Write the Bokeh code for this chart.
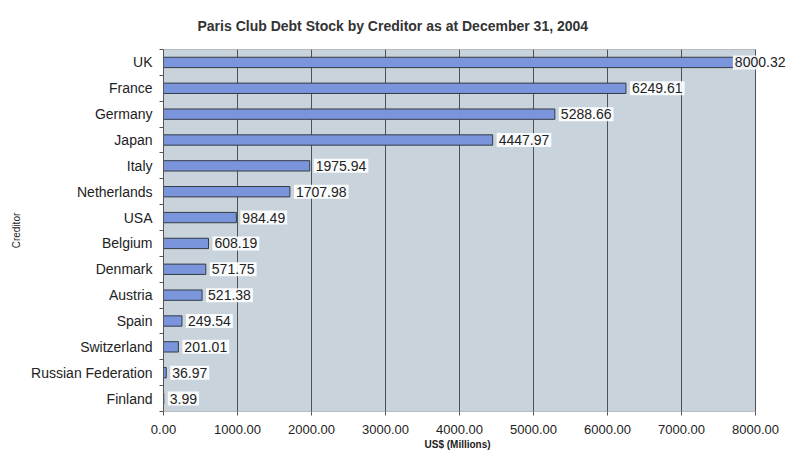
import numpy as np
from bokeh.plotting import figure
from bokeh.models import (ColumnDataSource, Range1d, FixedTicker, Label,
                          NumeralTickFormatter, Title)
from bokeh.embed import file_html
from bokeh.resources import INLINE

# ---- data (top to bottom as in the chart) ----
creditors = ["UK", "France", "Germany", "Japan", "Italy", "Netherlands", "USA",
             "Belgium", "Denmark", "Austria", "Spain", "Switzerland",
             "Russian Federation", "Finland"]
debt = [8000.32, 6249.61, 5288.66, 4447.97, 1975.94, 1707.98, 984.49,
        608.19, 571.75, 521.38, 249.54, 201.01, 36.97, 3.99]
x_ticks = [0, 1000, 2000, 3000, 4000, 5000, 6000, 7000, 8000]

title_text = "Paris Club Debt Stock by Creditor as at December 31, 2004"
x_title = "US$ (Millions)"
y_title = "Creditor"

FONT = "Liberation Sans"
n = len(creditors)
xmax = x_ticks[-1]
pos = list(range(n))
vals = np.array(debt)
label_x = np.minimum(vals, xmax - 360)
label_txt = [f"{d:.2f}" for d in debt]

# frame spans to the right edge of the page so the last label is not clipped;
# the plotting area proper (0..xmax) is drawn as a panel.
W, H = 789, 451
FL, FR_AREA = 163, 755
x_end = xmax * (W - FL) / (FR_AREA - FL)

src = ColumnDataSource(dict(y=pos, v=debt))

p = figure(width=W, height=H, output_backend="svg", toolbar_location=None,
           x_range=Range1d(0, x_end), y_range=Range1d(n - 0.5, -0.5),
           min_border_left=FL, min_border_right=0, min_border_top=49,
           min_border_bottom=40)

p.background_fill_color = "white"
p.border_fill_color = "white"
p.outline_line_color = None

# plot area panel
p.quad(left=0, right=xmax, bottom=n - 0.5, top=-0.5,
       fill_color="#c9d3dc", line_color="#7d848c", line_width=1, level="underlay")

p.title.text = title_text
p.title.align = "left"
p.title.offset = 34
p.title.text_font = FONT
p.title.text_font_size = "14px"
p.title.text_font_style = "bold"
p.title.text_color = "#333333"
p.title.standoff = 31

p.hbar(y="y", right="v", left=0, height=0.4, source=src,
       fill_color="#7a95db", line_color="#353b46", line_width=1)

for lx, yy, t in zip(label_x, pos, label_txt):
    p.add_layout(Label(x=float(lx), y=yy, text=t, x_offset=4,
                       text_baseline="middle", text_align="left",
                       text_font=FONT, text_font_size="14px",
                       text_color="#222222", padding=2,
                       background_fill_color="white",
                       background_fill_alpha=0.9))

# x axis
xa = p.xaxis[0]
xa.ticker = FixedTicker(ticks=x_ticks)
xa.formatter = NumeralTickFormatter(format="0.00")
xa.major_label_text_font = FONT
xa.major_label_text_font_size = "13px"
xa.major_label_text_color = "#222222"
xa.major_label_standoff = 9
xa.major_tick_out = 4
xa.major_tick_in = 0
xa.minor_tick_line_color = None
xa.axis_line_color = None
xa.major_tick_line_color = "#555555"

p.add_layout(Title(text=x_title, align="left", offset=261,
                   text_font=FONT, text_font_size="10px",
                   text_font_style="bold", text_color="#222222",
                   standoff=1), "below")

# y axis
ya = p.yaxis[0]
ya.ticker = FixedTicker(ticks=pos, minor_ticks=[i - 0.5 for i in range(n + 1)])
ya.major_label_overrides = {i: c for i, c in zip(pos, creditors)}
ya.major_label_text_font = FONT
ya.major_label_text_font_size = "14px"
ya.major_label_text_color = "#222222"
ya.major_tick_line_color = None
ya.major_tick_out = 0
ya.major_tick_in = 0
ya.minor_tick_out = 4
ya.minor_tick_in = 0
ya.minor_tick_line_color = "#555555"
ya.major_label_standoff = 7
ya.axis_line_color = "#555555"
ya.axis_label = y_title
ya.axis_label_text_font = FONT
ya.axis_label_text_font_size = "10px"
ya.axis_label_text_font_style = "normal"
ya.axis_label_text_color = "#222222"
ya.axis_label_standoff = 6

p.xgrid.ticker = FixedTicker(ticks=x_ticks)
p.xgrid.grid_line_color = "#4d5258"
p.xgrid.grid_line_width = 1
p.ygrid.grid_line_color = None

open("out.html", "w").write(file_html(p, INLINE))
